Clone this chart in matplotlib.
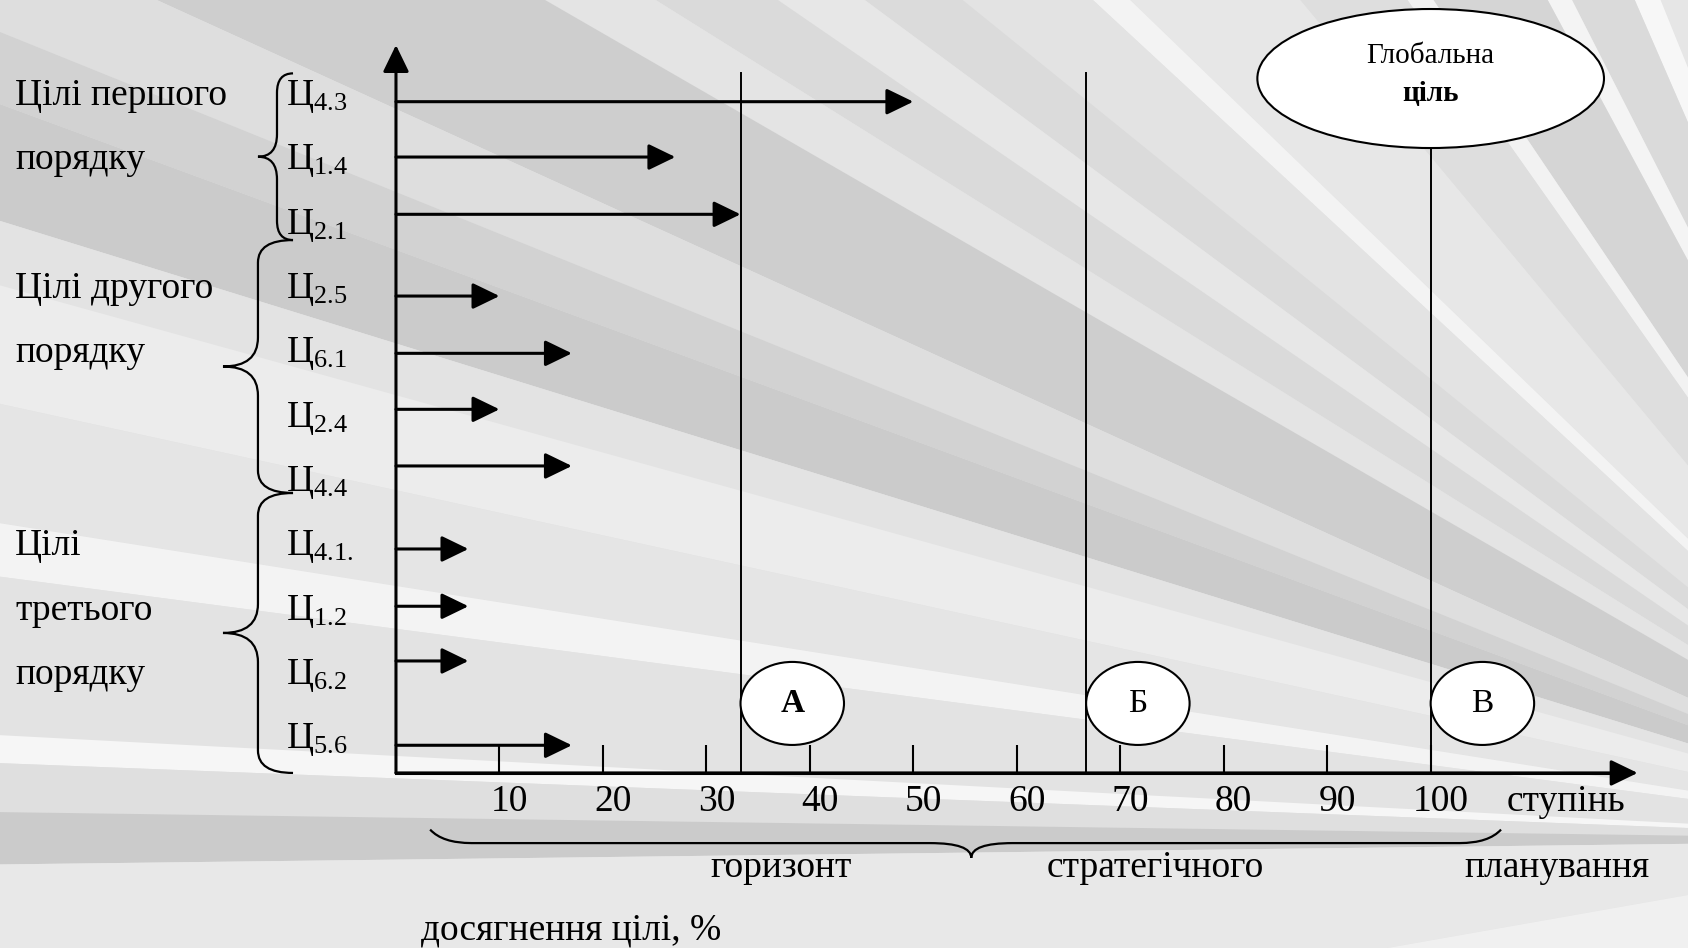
import matplotlib
matplotlib.use('Agg')
import matplotlib.pyplot as plt
from matplotlib.patches import Ellipse, Wedge, PathPatch
from matplotlib.path import Path
from matplotlib.transforms import ScaledTranslation

plt.rcParams['font.family'] = ['Liberation Serif', 'DejaVu Serif']
plt.rcParams['mathtext.fontset'] = 'custom'
plt.rcParams['mathtext.rm'] = 'Liberation Serif'
plt.rcParams['mathtext.it'] = 'Liberation Serif:italic'
plt.rcParams['mathtext.bf'] = 'Liberation Serif:bold'
plt.rcParams['mathtext.default'] = 'rm'

# ---------------- data ----------------
goal_ids = ['4.3', '1.4', '2.1', '2.5', '6.1', '2.4', '4.4', '4.1.', '1.2', '6.2', '5.6']
achievement = [50, 27, 33.3, 10, 17, 10, 17, 7, 7, 7, 17]          # % of goal achieved
group_names = [['Цілі першого', 'порядку'],
               ['Цілі другого', 'порядку'],
               ['Цілі', 'третього', 'порядку']]
group_sizes = [3, 4, 4]
horizon_marks = ['А', 'Б', 'В']
horizon_values = [33.3, 66.7, 100]
tick_values = [10, 20, 30, 40, 50, 60, 70, 80, 90, 100]
tick_labels = ['10', '20', '30', '40', '50', '60', '70', '80', '90', '100']
global_goal = 'Глобальна\nціль'
bottom_words = ['горизонт', 'стратегічного', 'планування']
x_unit_word = 'ступінь'
x_title = 'досягнення цілі, %'

# ---------------- layout ----------------
arrow_y = [10.43, 9.57, 8.68, 7.41, 6.52, 5.65, 4.77, 3.48, 2.59, 1.74, 0.43]
brace_bounds = [(10.87, 8.28), (8.28, 4.35), (4.35, 0.0)]
FS = 27

fig = plt.figure(figsize=(16.88, 9.48), dpi=100)

# background rays (decorative)
bg = fig.add_axes([0, 0, 1, 1], zorder=-5)
bg.set_xlim(0, 1688)
bg.set_ylim(0, 948)
bg.axis('off')
bg.add_patch(plt.Rectangle((0, 0), 1688, 948, facecolor='#e3e3e3', edgecolor='none'))
bands = [(100, 112, '#e6e6e6'), (112, 113.5, '#f7f7f7'), (113.5, 117, '#dadada'),
         (117, 118.3, '#f4f4f4'), (118.3, 124, '#d5d5d5'), (124, 125.2, '#f2f2f2'),
         (125.2, 129.8, '#dedede'), (129.8, 136, '#e7e7e7'), (136, 137.2, '#f3f3f3'),
         (137.2, 141, '#e3e3e3'), (141, 143.5, '#dbdbdb'), (143.5, 145.5, '#e7e7e7'),
         (145.5, 148, '#dadada'), (148, 150, '#e4e4e4'), (150, 155.5, '#cecece'),
         (155.5, 158, '#dedede'), (158, 159.8, '#d2d2d2'), (159.8, 162.8, '#cbcbcb'),
         (162.8, 164.5, '#e3e3e3'), (164.5, 167.7, '#ececec'), (167.7, 171, '#e5e5e5'),
         (171, 172.5, '#f3f3f3'), (172.5, 177.0, '#e3e3e3'), (177.0, 177.8, '#f6f6f6'),
         (177.8, 179.2, '#dfdfdf'), (179.2, 180.7, '#cbcbcb'), (180.7, 190, '#e8e8e8'),
         (190, 215, '#f0f0f0')]
for t1, t2, c in bands:
    bg.add_patch(Wedge((2000, 108), 3200, t1, t2, facecolor=c, edgecolor='none'))

ax = fig.add_axes([0, 0, 1, 1])
ax.set_facecolor('none')
ax.set_xlim(-38.27, 124.87)
ax.set_ylim(-2.72, 12.01)
for s in ['top', 'right', 'left']:
    ax.spines[s].set_visible(False)
ax.spines['bottom'].set_position(('data', 0))
ax.spines['bottom'].set_bounds(0, 118)
ax.spines['bottom'].set_linewidth(2.2)
ax.set_yticks([])
ax.set_xticks(tick_values)
ax.set_xticklabels(tick_labels, fontsize=FS)
ax.tick_params(axis='x', direction='in', length=20, width=1.5, pad=8)
for lab in ax.get_xticklabels():
    lab.set_transform(lab.get_transform() + ScaledTranslation(0.10, 0, fig.dpi_scale_trans))

AST = '-|>,head_length=1.65,head_width=0.8'


def arrow(x0, y0, x1, y1, lw=2.2):
    ax.annotate('', xy=(x1, y1), xytext=(x0, y0),
                arrowprops=dict(arrowstyle=AST, mutation_scale=10, lw=lw,
                                color='black', shrinkA=0, shrinkB=0))


# axes arrows
arrow(0, 0, 120, 0)
arrow(0, 0, 0, 11.31)

# goal arrows and labels
n = len(goal_ids)
for i, (gid, val, yy) in enumerate(zip(goal_ids, achievement, arrow_y)):
    arrow(0, yy, val, yy)
    row = n - 1 - i
    ax.text(-10.6, row + 0.38, 'Ц$_{%s}$' % gid, fontsize=FS, ha='left', va='baseline')

# horizon lines and circles
for mark, hv in zip(horizon_marks, horizon_values):
    top = 9.71 if hv == 100 else 10.87
    ax.plot([hv, hv], [0, top], color='black', lw=1.4, zorder=2)
    ax.add_patch(Ellipse((hv + 5, 1.08), 10, 1.29, facecolor='white',
                         edgecolor='black', lw=1.5, zorder=3))
    ax.text(hv + 5, 1.08, mark, fontsize=FS - 3, ha='center', va='center', zorder=4,
            fontweight='bold' if mark == 'А' else 'normal')

# global goal ellipse
ax.add_patch(Ellipse((100, 10.79), 33.5, 2.16, facecolor='white', edgecolor='black',
                     lw=1.5, zorder=3))
g1, g2 = global_goal.split('\n')
ax.text(100, 11.14, g1, fontsize=21, ha='center', va='center', zorder=4)
ax.text(100, 10.55, g2, fontsize=21, ha='center', va='center', zorder=4, fontweight='bold')


# group labels and braces
def vbrace(x, y_top, y_bot, depth, curl, r=0.3, rt=0.35):
    mid = (y_top + y_bot) / 2
    verts = [(x + curl, y_top), (x, y_top), (x, y_top - r),
             (x, mid + rt), (x, mid), (x - depth, mid),
             (x, mid), (x, mid - rt),
             (x, y_bot + r), (x, y_bot), (x + curl, y_bot)]
    codes = [Path.MOVETO, Path.CURVE3, Path.CURVE3,
             Path.LINETO, Path.CURVE3, Path.CURVE3,
             Path.CURVE3, Path.CURVE3,
             Path.LINETO, Path.CURVE3, Path.CURVE3]
    ax.add_patch(PathPatch(Path(verts, codes), facecolor='none', edgecolor='black', lw=1.6))


row_start = n - 1
for gi, (lines, size) in enumerate(zip(group_names, group_sizes)):
    for li, line in enumerate(lines):
        ax.text(-36.8, row_start - li + 0.38, line, fontsize=FS, ha='left', va='baseline')
    y_top, y_bot = brace_bounds[gi]
    if gi == 0:
        vbrace(-11.5, y_top, y_bot, 1.84, 1.55)
    else:
        vbrace(-13.34, y_top, y_bot, 3.38, 3.39, r=0.35, rt=0.45)
    row_start -= size


# horizontal brace below axis
def hbrace(x0, x1, xm, y, d, h, rx=4.0):
    verts = [(x0, y + h), (x0 + 0.3 * rx, y), (x0 + rx, y),
             (xm - rx, y), (xm, y), (xm, y - d),
             (xm, y), (xm + rx, y),
             (x1 - rx, y), (x1 - 0.3 * rx, y), (x1, y + h)]
    codes = [Path.MOVETO, Path.CURVE3, Path.CURVE3,
             Path.LINETO, Path.CURVE3, Path.CURVE3,
             Path.CURVE3, Path.CURVE3,
             Path.LINETO, Path.CURVE3, Path.CURVE3]
    ax.add_patch(PathPatch(Path(verts, codes), facecolor='none', edgecolor='black', lw=1.6))


hbrace(3.3, 106.8, 55.6, -1.09, 0.23, 0.21)

for word, xc in zip(bottom_words, [37.2, 73.4, 112.2]):
    ax.text(xc, -1.62, word, fontsize=FS, ha='center', va='baseline')
ax.text(107.3, -0.585, x_unit_word, fontsize=FS, ha='left', va='baseline')
ax.text(2.4, -2.59, x_title, fontsize=FS, ha='left', va='baseline')

fig.savefig('out.png', dpi=100)
